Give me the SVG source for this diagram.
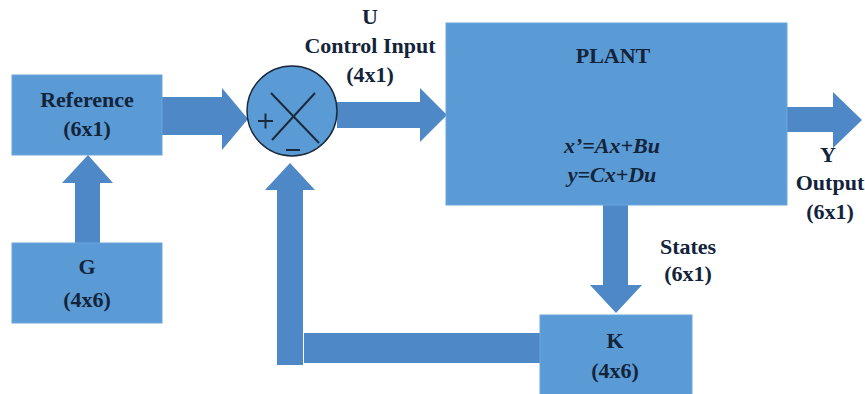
<svg xmlns="http://www.w3.org/2000/svg" width="865" height="394" viewBox="0 0 865 394">
<style>
.box{fill:#5b9bd5;stroke:#6aa6dc;stroke-width:1}
.arr{fill:#4f88c6}
.t{font-family:"Liberation Serif","Times New Roman",serif;font-weight:bold;font-size:22px;fill:#13243a;text-anchor:middle}
.eq{font-style:italic}
.sym{stroke:#1a2a3c;stroke-width:2;fill:none}
</style>
<rect width="865" height="394" fill="#ffffff"/>
<g id="connectors">
  <!-- Reference -> summer -->
  <path class="arr" d="M162,97 H222 V88 L248,119 L222,150 V135 H162 Z"/>
  <!-- summer -> plant -->
  <path class="arr" d="M337,102 H420 V88 L447,115 L420,142 V128 H337 Z"/>
  <!-- plant -> output -->
  <path class="arr" d="M787,107 H833 V92 L862,120 L833,148 V132 H787 Z"/>
  <!-- G -> Reference -->
  <path class="arr" d="M75,243 V183 H62 L88,155 L113,183 H100 V243 Z"/>
  <!-- plant -> K -->
  <path class="arr" d="M603,205 H628 V285 H642 L616,313 L590,285 H603 Z"/>
  <!-- K -> summer feedback -->
  <rect class="arr" x="304" y="333" width="237" height="30"/>
  <path class="arr" d="M277,365 V190 H265 L290,163 L315,190 H303 V365 Z"/>
  <text class="t" x="370" y="24">U</text>
  <text class="t" x="370" y="53">Control Input</text>
  <text class="t" x="370" y="82">(4x1)</text>
  <text class="t" x="828" y="162">Y</text>
  <text class="t" x="830" y="190">Output</text>
  <text class="t" x="830" y="219">(6x1)</text>
  <text class="t" x="688" y="254">States</text>
  <text class="t" x="688" y="281">(6x1)</text>
</g>
<g id="reference">
  <rect class="box" x="12" y="75" width="150" height="80"/>
  <text class="t" x="87" y="107">Reference</text>
  <text class="t" x="87" y="136">(6x1)</text>
</g>
<g id="g">
  <rect class="box" x="12" y="243" width="150" height="80"/>
  <text class="t" x="87" y="274">G</text>
  <text class="t" x="87" y="307">(4x6)</text>
</g>
<g id="summer">
  <circle cx="292" cy="111" r="45" fill="#5b9bd5" stroke="#1a2a3c" stroke-width="1.5"/>
  <line class="sym" x1="271" y1="93" x2="319" y2="143"/>
  <line class="sym" x1="315" y1="93" x2="272" y2="140"/>
  <line class="sym" x1="258" y1="121" x2="273" y2="121"/>
  <line class="sym" x1="265.5" y1="113.5" x2="265.5" y2="128.5"/>
  <line class="sym" x1="286" y1="150" x2="300" y2="150"/>
</g>
<g id="plant">
  <rect class="box" x="446" y="23" width="341" height="182"/>
  <text class="t" x="613" y="63">PLANT</text>
  <text class="t eq" x="612" y="153">x’=Ax+Bu</text>
  <text class="t eq" x="612" y="182">y=Cx+Du</text>
</g>
<g id="k">
  <rect class="box" x="540" y="315" width="152" height="85"/>
  <text class="t" x="615" y="348">K</text>
  <text class="t" x="615" y="378">(4x6)</text>
</g>
</svg>
